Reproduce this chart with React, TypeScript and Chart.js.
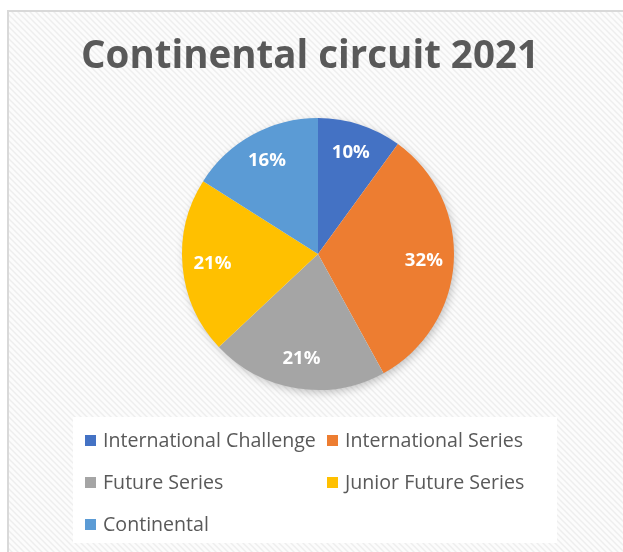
import React, { useEffect, useRef } from 'react';
import { Chart, registerables } from 'chart.js';

Chart.register(...registerables);

const chartTitle = 'Continental circuit 2021';
const categories = [
  'International Challenge',
  'International Series',
  'Future Series',
  'Junior Future Series',
  'Continental',
];
const shares = [10, 32, 21, 21, 16];
const sliceColors = ['#4472C4', '#ED7D31', '#A5A5A5', '#FFC000', '#5B9BD5'];

const TEXT_GREY = '#595959';
const FONT = '"Open Sans"';

function makePattern(ctx: CanvasRenderingContext2D) {
  const c = document.createElement('canvas');
  c.width = 6;
  c.height = 6;
  const p = c.getContext('2d')!;
  p.fillStyle = '#fcfcfc';
  p.fillRect(0, 0, 6, 6);
  p.strokeStyle = '#eeeeee';
  p.lineWidth = 1.5;
  p.beginPath();
  p.moveTo(-1, -1);
  p.lineTo(7, 7);
  p.moveTo(-1, 5);
  p.lineTo(1, 7);
  p.moveTo(5, -1);
  p.lineTo(7, 1);
  p.stroke();
  return ctx.createPattern(c, 'repeat');
}

function fitSize(ctx: CanvasRenderingContext2D, text: string, weight: string, target: number) {
  ctx.font = `${weight} 20px ${FONT}`;
  const w = ctx.measureText(text).width;
  return (20 * target) / w;
}

const backgroundPlugin = {
  id: 'sheetBackground',
  beforeDraw(chart: any) {
    const { ctx, width, height } = chart;
    ctx.save();
    ctx.fillStyle = '#ffffff';
    ctx.fillRect(0, 0, width, height);
    const pat = makePattern(ctx);
    if (pat) {
      ctx.fillStyle = pat;
      ctx.fillRect(7, 10, width - 7, height - 10);
    }
    ctx.strokeStyle = '#d9d9d9';
    ctx.lineWidth = 2;
    ctx.beginPath();
    ctx.moveTo(8, height);
    ctx.lineTo(8, 11);
    ctx.lineTo(width, 11);
    ctx.stroke();

    // title
    ctx.fillStyle = TEXT_GREY;
    const tSize = fitSize(ctx, chartTitle, 'bold', 458);
    ctx.font = `bold ${tSize.toFixed(1)}px ${FONT}`;
    ctx.textAlign = 'center';
    ctx.textBaseline = 'alphabetic';
    ctx.fillText(chartTitle, 310, 68);

    // legend box + entries
    ctx.fillStyle = '#ffffff';
    ctx.fillRect(73, 417, 484, 126);
    const colX = [85, 327];
    const rowY = [440, 482, 524];
    const lSize = fitSize(ctx, categories[0], 'normal', 213);
    ctx.font = `normal ${lSize.toFixed(1)}px ${FONT}`;
    ctx.textAlign = 'left';
    ctx.textBaseline = 'middle';
    const labels = chart.data.labels as string[];
    const colors = chart.data.datasets[0].backgroundColor as string[];
    labels.forEach((lab, i) => {
      const x = colX[i % 2];
      const y = rowY[Math.floor(i / 2)];
      ctx.fillStyle = colors[i];
      ctx.fillRect(x, y - 5, 11, 11);
      ctx.fillStyle = TEXT_GREY;
      ctx.fillText(lab, x + 18, y + 1);
    });
    ctx.restore();
  },
  beforeDatasetsDraw(chart: any) {
    const meta = chart.getDatasetMeta(0);
    const arc = meta.data[0];
    if (!arc) return;
    const { x, y, outerRadius } = arc.getProps(['x', 'y', 'outerRadius'], true);
    const { ctx } = chart;
    ctx.save();
    ctx.shadowColor = 'rgba(0,0,0,0.25)';
    ctx.shadowBlur = 10;
    ctx.shadowOffsetX = 2;
    ctx.shadowOffsetY = 3;
    ctx.fillStyle = '#ffffff';
    ctx.beginPath();
    ctx.arc(x, y, outerRadius - 1, 0, Math.PI * 2);
    ctx.fill();
    ctx.restore();
  },
  afterDatasetsDraw(chart: any) {
    const { ctx } = chart;
    const meta = chart.getDatasetMeta(0);
    const values = chart.data.datasets[0].data as number[];
    ctx.save();
    const s = fitSize(ctx, '10%', 'bold', 38);
    ctx.font = `bold ${s.toFixed(1)}px ${FONT}`;
    ctx.fillStyle = '#ffffff';
    ctx.textAlign = 'center';
    ctx.textBaseline = 'middle';
    meta.data.forEach((el: any, i: number) => {
      const { x, y, startAngle, endAngle, outerRadius } = el.getProps(
        ['x', 'y', 'startAngle', 'endAngle', 'outerRadius'],
        true
      );
      const mid = (startAngle + endAngle) / 2;
      const d = outerRadius * 0.78;
      ctx.fillText(`${values[i]}%`, x + Math.cos(mid) * d, y + Math.sin(mid) * d);
    });
    ctx.restore();
  },
};

export default function App() {
  const ref = useRef<HTMLCanvasElement>(null);
  useEffect(() => {
    const canvas = ref.current;
    if (!canvas) return;
    const chart = new Chart(canvas, {
      type: 'pie',
      data: {
        labels: categories,
        datasets: [
          {
            data: shares,
            backgroundColor: sliceColors,
            borderWidth: 0,
          },
        ],
      },
      options: {
        animation: false,
        responsive: true,
        maintainAspectRatio: false,
        layout: { padding: { left: 182, top: 118, right: 169, bottom: 162 } },
        plugins: {
          legend: { display: false },
          title: { display: false },
          tooltip: { enabled: false },
        },
      },
      plugins: [backgroundPlugin],
    });
    return () => chart.destroy();
  }, []);
  return (
    <div style={{ position: 'fixed', left: 0, top: 0, width: 623, height: 552 }}>
      <canvas ref={ref} />
    </div>
  );
}
